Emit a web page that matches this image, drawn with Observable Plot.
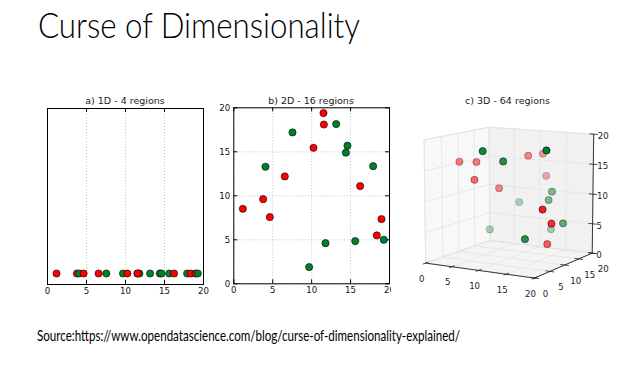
<!DOCTYPE html>
<html><head><meta charset="utf-8">
<script src="https://cdn.jsdelivr.net/npm/d3@7"></script>
<script src="https://cdn.jsdelivr.net/npm/@observablehq/plot@0.6"></script>
<style>
html,body{margin:0;padding:0;background:#fff;}
body{width:644px;height:372px;overflow:hidden;position:relative;}
.abs{position:absolute;}
svg{display:block;}
</style></head><body>
<div id="pa" class="abs" style="left:37px;top:90px"></div>
<div id="pb" class="abs" style="left:210px;top:90px"></div>
<div id="pc" class="abs" style="left:391px;top:88px"></div>
<svg id="overlay" class="abs" style="left:0;top:0" width="644" height="372"></svg>
<script>
// ---------- data (in drawing order) ----------
const ptX = [9.68, 11.78, 15.6, 17.9, 7.54, 13.15, 14.4, 14.6, 1.16, 3.77, 4.07, 4.63, 6.55, 10.24, 11.52, 11.57, 16.23, 18.37, 18.97, 19.27];
const ptY = [1.9, 4.62, 4.85, 13.37, 17.2, 18.15, 14.9, 15.7, 8.52, 9.62, 13.3, 7.58, 12.2, 15.45, 19.4, 18.1, 11.1, 5.5, 7.35, 5.0];
const ptZ = [18.6, 16.8, 4.7, 6.0, 8.0, 3.7, 9.3, 10.6, 15.5, 15.5, 3.6, 12.9, 11.0, 16.3, 12.5, 16.4, 2.8, 9.6, 7.1, 19.0];
const ptClass = ["g","g","g","g","g","g","g","g","r","r","g","r","r","r","r","r","r","r","r","g"];
const ticks = [0, 5, 10, 15, 20];
const axisLim = [0, 20];
const oneDLevel = 1;
const panelTitles = ["a) 1D - 4 regions", "b) 2D - 16 regions", "c) 3D - 64 regions"];
const mainTitle = "Curse of Dimensionality";
const sourceText = "Source:https://www.opendatascience.com/blog/curse-of-dimensionality-explained/";
const classColors = {r: "#ff0000", g: "#008028"};

const pts = ptX.map((x, i) => ({x, y: ptY[i], z: ptZ[i], c: ptClass[i]}));
const tickFont = {fontFamily: "DejaVu Sans", fontSize: "8.6px", color: "#111", background: "transparent", overflow: "visible"};
const gridStyle = {stroke: "#b4b4b4", strokeOpacity: 1, strokeDasharray: "1,2", strokeWidth: 0.8};

// ---------- panel a: 1D ----------
{
  const H = 215, mt = 18, mb = 21, fh = H - mt - mb;
  const chart = Plot.plot({
    width: 176, height: H, marginLeft: 10, marginRight: 10, marginTop: mt, marginBottom: mb,
    x: {domain: axisLim}, y: {domain: [0, 16], axis: null},
    style: tickFont,
    marks: [
      Plot.gridX(ticks, gridStyle),
      Plot.ruleX(ticks, {insetTop: fh - 4, stroke: "#000"}),
      Plot.ruleX(ticks, {insetBottom: fh - 4, stroke: "#000"}),
      Plot.axisX(ticks, {anchor: "bottom", tickSize: 0, tickPadding: 3.5, label: null}),
      Plot.dot(pts, {x: "x", y: () => oneDLevel, r: 3.6, fill: d => classColors[d.c], stroke: "#000", strokeWidth: 0.6}),
      Plot.frame({stroke: "#000", strokeWidth: 1})
    ]
  });
  document.getElementById("pa").appendChild(chart);
}

// ---------- panel b: 2D ----------
{
  const W = 190, H = 215, ml = 23.3, mr = 11, mt = 17.3, mb = 21.7, fh = H - mt - mb, fw = W - ml - mr;
  const chart = Plot.plot({
    width: W, height: H, marginLeft: ml, marginRight: mr, marginTop: mt, marginBottom: mb,
    x: {domain: axisLim}, y: {domain: axisLim},
    style: tickFont,
    marks: [
      Plot.gridX(ticks, gridStyle),
      Plot.gridY(ticks, gridStyle),
      Plot.ruleX(ticks, {insetTop: fh - 4, stroke: "#000"}),
      Plot.ruleX(ticks, {insetBottom: fh - 4, stroke: "#000"}),
      Plot.ruleY(ticks, {insetRight: fw - 4, stroke: "#000"}),
      Plot.ruleY(ticks, {insetLeft: fw - 4, stroke: "#000"}),
      Plot.axisX(ticks, {anchor: "bottom", tickSize: 0, tickPadding: 3.5, label: null}),
      Plot.axisY(ticks, {anchor: "left", tickSize: 0, tickPadding: 3.5, label: null}),
      Plot.dot(pts, {x: "x", y: "y", r: 3.6, fill: d => classColors[d.c], stroke: "#000", strokeWidth: 0.6}),
      Plot.frame({stroke: "#000", strokeWidth: 1})
    ]
  });
  document.getElementById("pb").appendChild(chart);
}

// ---------- panel c: 3D (perspective projection, then Plot scales) ----------
{
  const elev = 10, azim = -60, camDist = 190;
  const ctr = (axisLim[0] + axisLim[1]) / 2;
  const rad = Math.PI / 180;
  const ce = Math.cos(elev * rad), se = Math.sin(elev * rad), ca = Math.cos(azim * rad), sa = Math.sin(azim * rad);
  const camDir = [ce * ca, ce * sa, se], right = [-sa, ca, 0], up = [-se * ca, -se * sa, ce];
  const proj = (x, y, z) => {
    const p = [x - ctr, y - ctr, z - ctr];
    const dot = a => a[0] * p[0] + a[1] * p[1] + a[2] * p[2];
    const depth = dot(camDir), f = camDist / (camDist - depth);
    return {u: dot(right) * f, v: dot(up) * f, depth};
  };
  const [a0, a1] = axisLim;
  const W = 253, H = 222, cx = 119, cy = 109.5, pxPerUnit = 6.15;
  const xDom = [(0 - cx) / pxPerUnit, (W - cx) / pxPerUnit];
  const yDom = [(cy - H) / pxPerUnit, (cy - 0) / pxPerUnit];

  const poly = (id, corners) => corners.map(c => ({id, ...proj(...c)}));
  const xpane = poly("xpane", [[a0,a0,a0],[a0,a1,a0],[a0,a1,a1],[a0,a0,a1],[a0,a0,a0]]);
  const ypane = poly("ypane", [[a0,a1,a0],[a1,a1,a0],[a1,a1,a1],[a0,a1,a1],[a0,a1,a0]]);
  const zpane = poly("zpane", [[a0,a0,a0],[a1,a0,a0],[a1,a1,a0],[a0,a1,a0],[a0,a0,a0]]);
  const grid = [];
  ticks.forEach((t, i) => {
    grid.push(...poly("f1" + i, [[t,a0,a0],[t,a1,a0]]), ...poly("f2" + i, [[a0,t,a0],[a1,t,a0]]));
    grid.push(...poly("l1" + i, [[a0,t,a0],[a0,t,a1]]), ...poly("l2" + i, [[a0,a0,t],[a0,a1,t]]));
    grid.push(...poly("b1" + i, [[t,a1,a0],[t,a1,a1]]), ...poly("b2" + i, [[a0,a1,t],[a1,a1,t]]));
  });
  const axes = [
    ...poly("ax", [[a0,a0,a0],[a1,a0,a0]]),
    ...poly("ay", [[a1,a0,a0],[a1,a1,a0]]),
    ...poly("az", [[a1,a1,a0],[a1,a1,a1]])
  ];
  const tk = 0.7;
  const tickSegs = [];
  ticks.forEach((t, i) => {
    tickSegs.push(...poly("tx" + i, [[t,a0+tk,a0],[t,a0-tk,a0]]));
    tickSegs.push(...poly("ty" + i, [[a1-tk,t,a0],[a1+tk,t,a0]]));
    tickSegs.push(...poly("tz" + i, [[a1-tk,a1,t],[a1+tk,a1,t]]));
  });
  const xLab = ticks.map(t => ({t, ...proj(t, a0, a0)}));
  const yLab = ticks.map(t => ({t, ...proj(a1, t, a0)}));
  const zLab = ticks.map(t => ({t, ...proj(a1, a1, t)}));

  const dots = pts.map(d => ({...d, ...proj(d.x, d.y, d.z)}));
  const dMin = d3.min(dots, d => d.depth), dMax = d3.max(dots, d => d.depth);
  dots.forEach(d => d.alpha = 1 - 0.7 * (dMax - d.depth) / (dMax - dMin));
  dots.sort((p, q) => p.depth - q.depth);

  const chart = Plot.plot({
    width: W, height: H, margin: 0,
    x: {domain: xDom, axis: null}, y: {domain: yDom, axis: null},
    style: {fontFamily: "DejaVu Sans", fontSize: "8.6px", color: "#222", background: "white", overflow: "visible"},
    marks: [
      Plot.line(xpane, {x: "u", y: "v", fill: "#f8f8f8", stroke: "#e2e2e2", strokeWidth: 0.8}),
      Plot.line(ypane, {x: "u", y: "v", fill: "#f1f1f1", stroke: "#e2e2e2", strokeWidth: 0.8}),
      Plot.line(zpane, {x: "u", y: "v", fill: "#f4f4f4", stroke: "#e2e2e2", strokeWidth: 0.8}),
      Plot.line(grid, {x: "u", y: "v", z: "id", stroke: "#e3e3e3", strokeWidth: 0.8}),
      Plot.line(axes, {x: "u", y: "v", z: "id", stroke: "#222", strokeWidth: 0.9}),
      Plot.line(tickSegs, {x: "u", y: "v", z: "id", stroke: "#222", strokeWidth: 0.8}),
      Plot.text(xLab, {x: "u", y: "v", text: "t", dx: -4, dy: 16, fill: "#222"}),
      Plot.text(yLab, {x: "u", y: "v", text: "t", dx: 11, dy: 16, fill: "#222"}),
      Plot.text(zLab, {x: "u", y: "v", text: "t", dx: 4, dy: 2, textAnchor: "start", fill: "#222"}),
      Plot.dot(dots, {x: "u", y: "v", r: 3.6, fill: d => classColors[d.c], fillOpacity: d => d.alpha,
        stroke: "#000", strokeOpacity: d => d.alpha, strokeWidth: 0.6})
    ]
  });
  document.getElementById("pc").appendChild(chart);
}

// ---------- page texts ----------
{
  const svg = d3.select("#overlay");
  svg.append("text").attr("x", 38).attr("y", 37.5)
    .attr("font-family", "Lato").attr("font-weight", 300).attr("font-size", 35)
    .attr("textLength", 322).attr("lengthAdjust", "spacingAndGlyphs").attr("fill", "#000")
    .text(mainTitle);
  svg.append("text").attr("x", 37).attr("y", 341)
    .attr("font-family", "Lato").attr("font-size", 16)
    .attr("textLength", 423).attr("lengthAdjust", "spacingAndGlyphs").attr("fill", "#000")
    .text(sourceText);
  const tpos = [[125, 104], [311, 104], [507.5, 103.5]];
  panelTitles.forEach((t, i) => {
    svg.append("text").attr("x", tpos[i][0]).attr("y", tpos[i][1]).attr("text-anchor", "middle")
      .attr("font-family", "DejaVu Sans").attr("font-size", 9.5).attr("fill", "#222").text(t);
  });
}
</script>
</body></html>
